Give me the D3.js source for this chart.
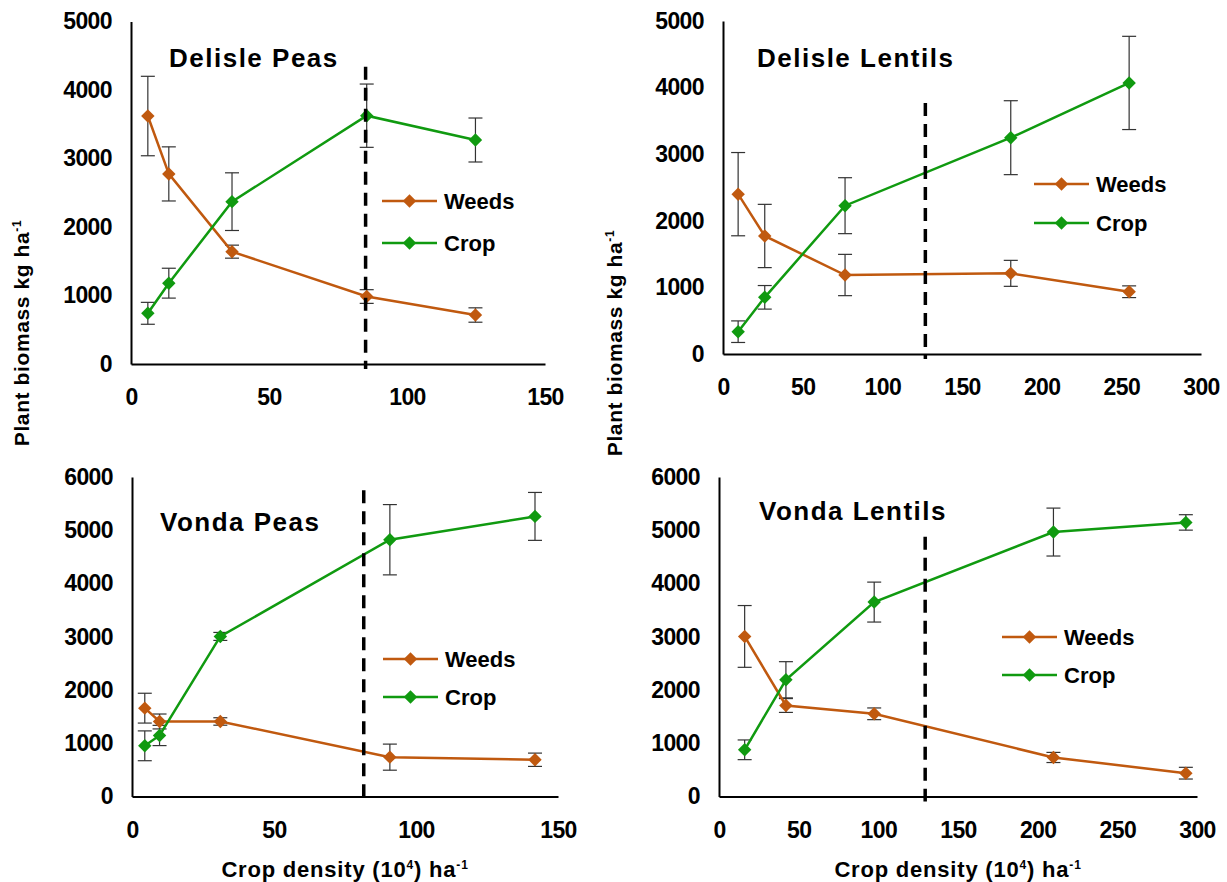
<!DOCTYPE html>
<html>
<head>
<meta charset="utf-8">
<script src="https://cdn.jsdelivr.net/npm/d3@7"></script>
<style>
  body { margin: 0; background: #fff; }
  svg { display: block; font-family: "Liberation Sans", Arial, sans-serif; font-weight: bold; }
</style>
</head>
<body>
<div id="chart"></div>
<script>
// ---- data ----
const seriesNames = ["Weeds", "Crop"];

const delislePeasX = [6.1, 13.7, 36.6, 85.4, 124.8];
const delislePeasWeeds = [3620, 2775, 1640, 985, 715];
const delislePeasWeedsErr = [580, 395, 95, 100, 105];
const delislePeasCrop = [740, 1180, 2370, 3625, 3270];
const delislePeasCropErr = [160, 218, 421, 462, 321];

const delisleLentilsX = [9.5, 26.2, 76.6, 180.6, 254.9];
const delisleLentilsWeeds = [2400, 1772, 1186, 1211, 935];
const delisleLentilsWeedsErr = [625, 475, 310, 195, 88];
const delisleLentilsCrop = [335, 851, 2227, 3248, 4070];
const delisleLentilsCropErr = [162, 177, 420, 555, 700];

const vondaPeasX = [4.5, 9.7, 31.1, 90.8, 141.9];
const vondaPeasWeeds = [1659, 1409, 1409, 739, 690];
const vondaPeasWeedsErr = [280, 140, 70, 245, 125];
const vondaPeasCrop = [952, 1146, 3006, 4822, 5260];
const vondaPeasCropErr = [280, 190, 75, 660, 450];

const vondaLentilsX = [16.1, 42, 97.4, 209.9, 293];
const vondaLentilsWeeds = [3006, 1709, 1553, 733, 438];
const vondaLentilsWeedsErr = [580, 130, 110, 95, 110];
const vondaLentilsCrop = [877, 2192, 3651, 4966, 5147];
const vondaLentilsCropErr = [185, 340, 375, 450, 145];

// vertical dashed reference line: [x, top value]
const delislePeasDash = [85, 4340];
const delisleLentilsDash = [127, 3770];
const vondaPeasDash = [81.6, 5750];
const vondaLentilsDash = [129.4, 4880];

const peasXTicks = [0, 50, 100, 150];
const lentilsXTicks = [0, 50, 100, 150, 200, 250, 300];
const topYTicks = [0, 1000, 2000, 3000, 4000, 5000];
const bottomYTicks = [0, 1000, 2000, 3000, 4000, 5000, 6000];

// ---- layout ----
const width = 1227, height = 882;
const colors = {Weeds: "#c0590f", Crop: "#109a10"};

const svg = d3.select("#chart").append("svg")
  .attr("width", width)
  .attr("height", height)
  .attr("viewBox", [0, 0, width, height]);

const panels = [
  {title: "Delisle Peas", x: delislePeasX, weeds: delislePeasWeeds, weedsErr: delislePeasWeedsErr,
   crop: delislePeasCrop, cropErr: delislePeasCropErr, dash: delislePeasDash,
   xTicks: peasXTicks, yTicks: topYTicks, left: 131, right: 545, bottom: 364, top: 21.5,
   titleX: 169, titleY: 67, legX: 382, legY: [201, 243]},
  {title: "Delisle Lentils", x: delisleLentilsX, weeds: delisleLentilsWeeds, weedsErr: delisleLentilsWeedsErr,
   crop: delisleLentilsCrop, cropErr: delisleLentilsCropErr, dash: delisleLentilsDash,
   xTicks: lentilsXTicks, yTicks: topYTicks, left: 723, right: 1201, bottom: 354, top: 21,
   titleX: 757, titleY: 67, legX: 1034, legY: [184, 223]},
  {title: "Vonda Peas", x: vondaPeasX, weeds: vondaPeasWeeds, weedsErr: vondaPeasWeedsErr,
   crop: vondaPeasCrop, cropErr: vondaPeasCropErr, dash: vondaPeasDash,
   xTicks: peasXTicks, yTicks: bottomYTicks, left: 132, right: 558, bottom: 796.5, top: 477,
   titleX: 160, titleY: 531, legX: 383, legY: [659, 697]},
  {title: "Vonda Lentils", x: vondaLentilsX, weeds: vondaLentilsWeeds, weedsErr: vondaLentilsWeedsErr,
   crop: vondaLentilsCrop, cropErr: vondaLentilsCropErr, dash: vondaLentilsDash,
   xTicks: lentilsXTicks, yTicks: bottomYTicks, left: 719, right: 1197, bottom: 796.5, top: 477,
   titleX: 759, titleY: 520, legX: 1002, legY: [637, 675]}
];

const diamond = d3.symbol().type(d3.symbolDiamond2).size(115);

function drawPanel(p) {
  const g = svg.append("g");

  const xScale = d3.scaleLinear()
    .domain(d3.extent(p.xTicks))
    .range([p.left, p.right]);
  const yScale = d3.scaleLinear()
    .domain(d3.extent(p.yTicks))
    .range([p.bottom, p.top]);

  // axes, no tick marks, plain numbers
  g.append("g")
   .attr("transform", `translate(${p.left},0)`)
   .call(d3.axisLeft(yScale).tickValues(p.yTicks).tickFormat(d3.format("d")).tickSize(0).tickPadding(19))
   .call(a => a.select(".domain").attr("stroke", "#000").attr("stroke-width", 2))
   .selectAll("text")
   .style("font-size", "23px")
   .style("letter-spacing", "-0.6px")
   .attr("fill", "#000");

  g.append("g")
   .attr("transform", `translate(0,${p.bottom})`)
   .call(d3.axisBottom(xScale).tickValues(p.xTicks).tickFormat(d3.format("d")).tickSize(0))
   .call(a => a.select(".domain").attr("stroke", "#000").attr("stroke-width", 2))
   .selectAll("text")
   .attr("y", 33)
   .attr("dy", "0.35em")
   .style("font-size", "23px")
   .style("letter-spacing", "-0.6px")
   .attr("fill", "#000");

  const series = [
    {name: "Weeds", vals: p.weeds, err: p.weedsErr},
    {name: "Crop", vals: p.crop, err: p.cropErr}
  ];

  // error bars
  series.forEach(s => {
    const pts = p.x.map((x, i) => ({x, y: s.vals[i], e: s.err[i]}));
    const eb = g.append("g").attr("stroke", "#333").attr("stroke-width", 1.2);
    eb.selectAll("line.v").data(pts).join("line").attr("class", "v")
      .attr("x1", d => xScale(d.x)).attr("x2", d => xScale(d.x))
      .attr("y1", d => yScale(d.y - d.e)).attr("y2", d => yScale(d.y + d.e));
    eb.selectAll("line.t").data(pts.flatMap(d => [d.y - d.e, d.y + d.e].map(v => ({x: d.x, v}))))
      .join("line").attr("class", "t")
      .attr("x1", d => xScale(d.x) - 7).attr("x2", d => xScale(d.x) + 7)
      .attr("y1", d => yScale(d.v)).attr("y2", d => yScale(d.v));
  });

  // lines + markers
  const line = d3.line().x(d => xScale(d[0])).y(d => yScale(d[1]));
  series.forEach(s => {
    const pts = p.x.map((x, i) => [x, s.vals[i]]);
    g.append("path")
     .attr("d", line(pts))
     .attr("fill", "none")
     .attr("stroke", colors[s.name])
     .attr("stroke-width", 2.5);
    g.selectAll(null).data(pts).join("path")
     .attr("d", diamond)
     .attr("transform", d => `translate(${xScale(d[0])},${yScale(d[1])})`)
     .attr("fill", colors[s.name]);
  });

  // dashed reference line
  g.append("line")
   .attr("x1", xScale(p.dash[0])).attr("x2", xScale(p.dash[0]))
   .attr("y1", yScale(p.dash[1])).attr("y2", p.bottom + 5)
   .attr("stroke", "#000")
   .attr("stroke-width", 3.5)
   .attr("stroke-dasharray", "13,8");

  // title
  g.append("text")
   .attr("x", p.titleX)
   .attr("y", p.titleY)
   .style("font-size", "26px")
   .style("letter-spacing", "1.5px")
   .text(p.title);

  // legend
  seriesNames.forEach((name, i) => {
    const ly = p.legY[i];
    g.append("line")
     .attr("x1", p.legX).attr("x2", p.legX + 55)
     .attr("y1", ly).attr("y2", ly)
     .attr("stroke", colors[name]).attr("stroke-width", 2.5);
    g.append("path")
     .attr("d", diamond)
     .attr("transform", `translate(${p.legX + 27.5},${ly})`)
     .attr("fill", colors[name]);
    g.append("text")
     .attr("x", p.legX + 62)
     .attr("y", ly)
     .attr("dy", "0.35em")
     .style("font-size", "22px")
     .text(name);
  });
}

panels.forEach(drawPanel);

// shared axis titles
function yTitle(x, y) {
  const t = svg.append("text")
    .attr("transform", `translate(${x},${y}) rotate(-90)`)
    .attr("text-anchor", "middle")
    .style("font-size", "21px")
    .style("letter-spacing", "0.6px");
  t.append("tspan").text("Plant biomass kg ha");
  t.append("tspan").attr("dy", -8).style("font-size", "12px").text("-1");
}
yTitle(29, 333);
yTitle(622, 343);

function xTitle(x, y) {
  const t = svg.append("text")
    .attr("x", x).attr("y", y)
    .attr("text-anchor", "middle")
    .style("font-size", "22px")
    .style("letter-spacing", "0.8px");
  t.append("tspan").text("Crop density (10");
  t.append("tspan").attr("dy", -8).style("font-size", "12px").text("4");
  t.append("tspan").attr("dy", 8).text(") ha");
  t.append("tspan").attr("dy", -8).style("font-size", "12px").text("-1");
}
xTitle(345, 877);
xTitle(958, 877);
</script>
</body>
</html>
